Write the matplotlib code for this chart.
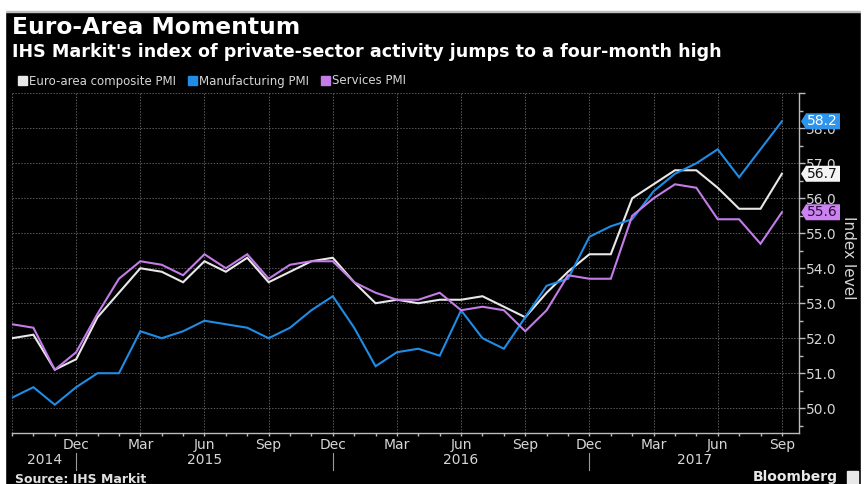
import numpy as np
import matplotlib
matplotlib.use("Agg")
from matplotlib import pyplot as plt
from matplotlib import transforms as mtransforms
from matplotlib.patches import Polygon, Rectangle
from matplotlib.ticker import MultipleLocator

# monthly readings, Sep 2014 .. Sep 2017
composite = [52.0, 52.1, 51.1, 51.4, 52.6, 53.3, 54.0, 53.9, 53.6, 54.2, 53.9, 54.3,
             53.6, 53.9, 54.2, 54.3, 53.6, 53.0, 53.1, 53.0, 53.1, 53.1, 53.2, 52.9,
             52.6, 53.3, 53.9, 54.4, 54.4, 56.0, 56.4, 56.8, 56.8, 56.3, 55.7, 55.7, 56.7]
manufacturing = [50.3, 50.6, 50.1, 50.6, 51.0, 51.0, 52.2, 52.0, 52.2, 52.5, 52.4, 52.3,
                 52.0, 52.3, 52.8, 53.2, 52.3, 51.2, 51.6, 51.7, 51.5, 52.8, 52.0, 51.7,
                 52.6, 53.5, 53.7, 54.9, 55.2, 55.4, 56.2, 56.7, 57.0, 57.4, 56.6, 57.4, 58.2]
services = [52.4, 52.3, 51.1, 51.6, 52.7, 53.7, 54.2, 54.1, 53.8, 54.4, 54.0, 54.4,
            53.7, 54.1, 54.2, 54.2, 53.6, 53.3, 53.1, 53.1, 53.3, 52.8, 52.9, 52.8,
            52.2, 52.8, 53.8, 53.7, 53.7, 55.5, 56.0, 56.4, 56.3, 55.4, 55.4, 54.7, 55.6]
series_names = ["Euro-area composite PMI", "Manufacturing PMI", "Services PMI"]
quarter_labels = ["Dec", "Mar", "Jun", "Sep"] * 3
years = ["2014", "2015", "2016", "2017"]

colors = ["#e8e8e8", "#1f8ce6", "#c47ce8"]
badge_colors = ["#f4f4f4", "#2f95ec", "#cc82f0"]
badge_text = ["#111111", "#ffffff", "#2a1038"]
fg = "#d6d6d6"

plt.rcParams["font.family"] = "DejaVu Sans"

W, H = 865, 484
fig = plt.figure(figsize=(W / 100, H / 100), dpi=100, facecolor="black")

# page margins round the bloomberg graphic
fig.add_artist(Rectangle((0, 1 - 11 / H), 1, 11 / H, transform=fig.transFigure,
                         color="white", zorder=5))
fig.add_artist(Rectangle((0, 1 - 12 / H), 1, 1 / H, transform=fig.transFigure,
                         color="#bdbdbd", zorder=5))
fig.add_artist(Rectangle((861 / W, 0), 4 / W, 1, transform=fig.transFigure,
                         color="white", zorder=5))
fig.add_artist(Rectangle((0, 0), 5 / W, 1, transform=fig.transFigure,
                         color="white", zorder=5))

ax_left, ax_right, ax_top, ax_bottom = 12, 799, 93.3, 432.7
ax = fig.add_axes([ax_left / W, 1 - ax_bottom / H, (ax_right - ax_left) / W,
                   (ax_bottom - ax_top) / H])
ax.set_facecolor("black")

x = np.arange(len(composite))
for vals, c in zip([composite, manufacturing, services], colors):
    ax.plot(x, vals, color=c, lw=1.5, solid_joinstyle="miter", zorder=3)

ax.set_xlim(0, 36.8)
ax.set_ylim(49.3, 59.0)

for side in ["left", "top"]:
    ax.spines[side].set_visible(False)
for side in ["right", "bottom"]:
    ax.spines[side].set_color("#bbbbbb")
    ax.spines[side].set_linewidth(1)

ax.yaxis.tick_right()
yt = np.arange(50, 60)
ax.set_yticks(yt)
ax.set_yticklabels([f"{v:.1f}" if v < 59 else "" for v in yt])
ax.yaxis.set_minor_locator(MultipleLocator(0.5))
ax.set_xticks(np.arange(0, 37, 3))
ax.set_xticklabels([""] + quarter_labels)
ax.xaxis.set_minor_locator(MultipleLocator(1))
ax.tick_params(axis="both", which="both", color="#bbbbbb", width=1, labelcolor=fg)
ax.tick_params(axis="y", which="major", length=4, labelsize=10, pad=1)
ax.tick_params(axis="y", which="minor", length=3)
ax.tick_params(axis="x", which="both", length=2.5, labelsize=10, pad=1.5)
ax.grid(True, which="major", color="#5a5a5a", linestyle=(0, (1.5, 1.5)), lw=0.7)

# year row with separators at each December
seps = [3, 15, 27]
xt = ax.get_xaxis_transform()
for s in seps:
    ax.plot([s, s], [-0.06, -0.11], transform=xt, color="#9a9a9a", lw=0.8, clip_on=False)
bounds = [0] + seps + [ax.get_xlim()[1]]
for yr, a, b in zip(years, bounds[:-1], bounds[1:]):
    ax.text((a + b) / 2, -0.08, yr, transform=xt, ha="center", va="center",
            color=fg, fontsize=10)

# last-value badges on the right axis
fig.canvas.draw()
yx = ax.get_yaxis_transform()
for vals, bc, tc in zip([composite, manufacturing, services], badge_colors, badge_text):
    px, py = yx.transform((1, vals[-1]))
    verts = [(px + 2, py), (px + 7, py + 8), (px + 41, py + 8),
             (px + 41, py - 8), (px + 7, py - 8)]
    fig.add_artist(Polygon(verts, closed=True, transform=mtransforms.IdentityTransform(),
                           facecolor=bc, edgecolor="none", zorder=6))
    fig.text((px + 7.5) / W, py / H, f"{vals[-1]:.1f}", ha="left", va="center",
             color=tc, fontsize=10, zorder=7)

fig.text(848 / W, 1 - 258 / H, "Index level", rotation=-90, ha="center", va="center",
         color=fg, fontsize=11)

fig.text(12 / W, 1 - 27 / H, "Euro-Area Momentum", color="white", fontsize=16.8,
         weight="bold", va="center")
fig.text(12 / W, 1 - 52 / H,
         "IHS Markit's index of private-sector activity jumps to a four-month high",
         color="white", fontsize=12.6, weight="bold", va="center")

handles = [Rectangle((0, 0), 1, 1, color=c) for c in colors]
fig.legend(handles, series_names, loc="center left", bbox_to_anchor=(18 / W, 1 - 81 / H),
           ncol=3, frameon=False, fontsize=8.5, labelcolor=fg, handlelength=0.75,
           handleheight=0.75, handletextpad=0.2, columnspacing=1.0, borderpad=0,
           borderaxespad=0)

fig.text(15 / W, 1 - 473 / H, "Source: IHS Markit", color="#e0e0e0", fontsize=9,
         weight="bold", va="top")
fig.text(838 / W, 1 - 477 / H, "Bloomberg", color="#e8e8e8", fontsize=10,
         weight="bold", ha="right", va="center")
fig.add_artist(Rectangle((847 / W, 0), 11 / W, 13 / H, transform=fig.transFigure,
                         color="#e8e8e8", zorder=4))

fig.savefig("out.png", dpi=100, facecolor="black")
